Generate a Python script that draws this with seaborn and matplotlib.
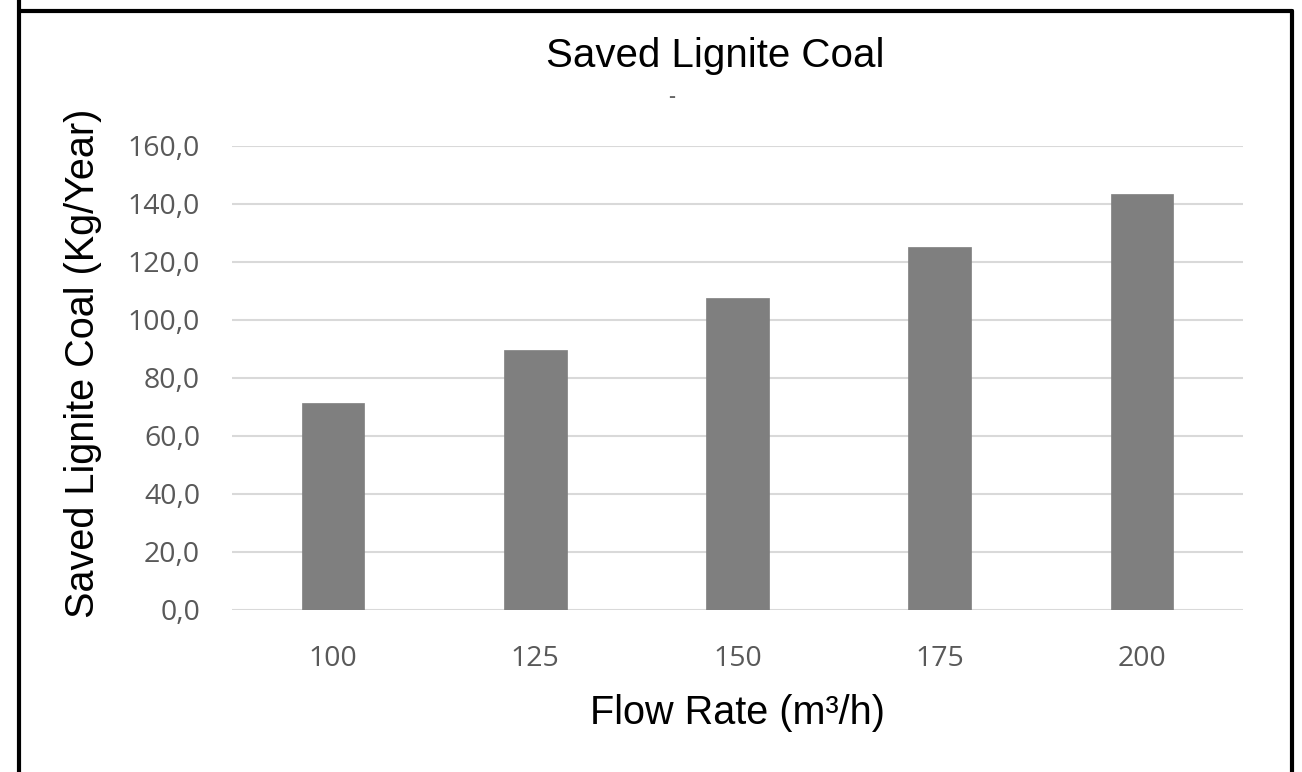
import matplotlib
matplotlib.use("Agg")
import matplotlib.pyplot as plt
import seaborn as sns
import pandas as pd
from matplotlib.lines import Line2D
from matplotlib.ticker import FuncFormatter

flow_rates = ["100", "125", "150", "175", "200"]
saved_coal = [71.5, 89.5, 107.5, 125.3, 143.4]

df = pd.DataFrame({"Flow": flow_rates, "Saved": saved_coal})

sns.set_theme(style="white")
plt.rcParams["font.family"] = ["Liberation Sans", "DejaVu Sans"]

fig = plt.figure(figsize=(13.02, 7.72), dpi=100)
ax = fig.add_axes([232/1302, 1-610/772, (1243-232)/1302, (610-146)/772])

sns.barplot(data=df, x="Flow", y="Saved", color="#7f7f7f", saturation=1,
            width=0.31, ax=ax, zorder=3, edgecolor="#7f7f7f", linewidth=0.5)

ax.set_ylim(0, 160)
ax.set_xlim(-0.5, 4.5)
ax.set_yticks(range(0, 161, 20))
ax.yaxis.set_major_formatter(FuncFormatter(lambda v, p: f"{v:.1f}".replace(".", ",")))
ax.grid(axis="y", color="#d9d9d9", linewidth=1.5, zorder=0)
ax.set_axisbelow(True)
for s in ax.spines.values():
    s.set_visible(False)
ax.tick_params(axis="both", length=0, labelsize=20.5, labelcolor="#595959")
for lab in ax.get_xticklabels() + ax.get_yticklabels():
    lab.set_family(["Open Sans", "DejaVu Sans"])
ax.tick_params(axis="y", pad=23)
ax.tick_params(axis="x", pad=25)

ax.set_xlabel("Flow Rate (m³/h)", fontsize=28.5, color="black")
ax.set_ylabel("Saved Lignite Coal (Kg/Year)", fontsize=28.5, color="black")
ax.xaxis.set_label_coords(0.5, -0.222)
ax.yaxis.set_label_coords(-0.1474, 0.532)
ax.xaxis.label.set_va("center")
ax.yaxis.label.set_va("center")
fig.text(715/1302, 1-67/772, "Saved Lignite Coal", ha="center", va="baseline",
         fontsize=29, color="black")
fig.text(672/1302, 1-97/772, "-", ha="center", va="center", fontsize=15,
         color="#666666", fontweight="bold")

# frame lines
fig.add_artist(Line2D([19/1302, 19/1302], [0, 1], transform=fig.transFigure, color="black", lw=3))
fig.add_artist(Line2D([1292/1302, 1292/1302], [0, 1-11/772], transform=fig.transFigure, color="black", lw=3))
fig.add_artist(Line2D([19/1302, 1292/1302], [1-11/772, 1-11/772], transform=fig.transFigure, color="black", lw=3))

fig.savefig("out.png", dpi=100)
